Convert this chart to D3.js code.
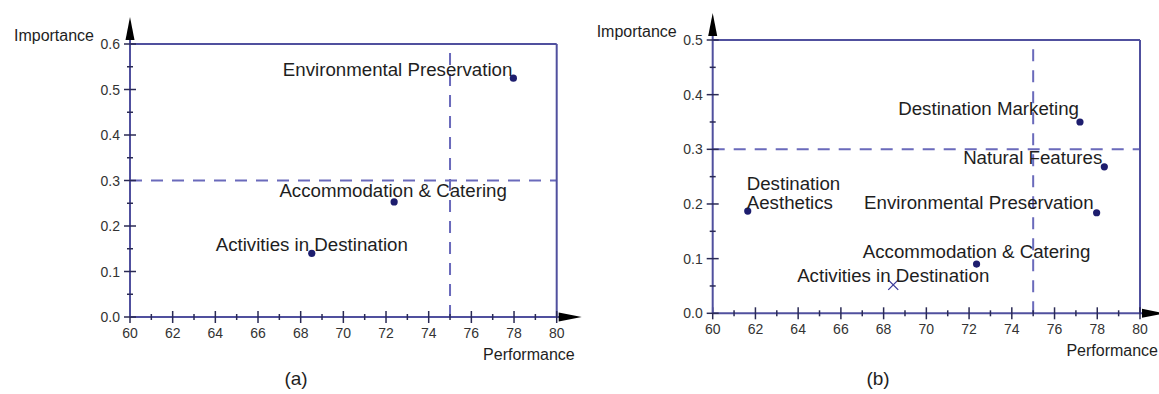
<!DOCTYPE html>
<html>
<head>
<meta charset="utf-8">
<script src="https://cdn.jsdelivr.net/npm/d3@7"></script>
<style>
  body { margin: 0; background: #fff; }
  svg { display: block; font-family: "Liberation Sans", Arial, sans-serif; }
</style>
</head>
<body>
<svg id="chart" width="1159" height="394"></svg>
<script>
// ---------- data ----------
const xTicks = [60, 62, 64, 66, 68, 70, 72, 74, 76, 78, 80];
const yTicksA = [0.0, 0.1, 0.2, 0.3, 0.4, 0.5, 0.6];
const yTicksB = [0.0, 0.1, 0.2, 0.3, 0.4, 0.5];
const perfThreshold = 75;
const impThreshold = 0.3;

const factorsA = ["Environmental Preservation", "Accommodation & Catering", "Activities in Destination"];
const perfA = [77.97, 72.38, 68.52];
const impA = [0.525, 0.253, 0.14];
const markerA = ["dot", "dot", "dot"];

const factorsB = ["Destination Marketing", "Natural Features", "Environmental Preservation",
                  "Accommodation & Catering", "Activities in Destination", "Destination\nAesthetics"];
const perfB = [77.19, 78.33, 77.97, 72.35, 68.45, 61.64];
const impB = [0.350, 0.268, 0.184, 0.090, 0.052, 0.187];
const markerB = ["dot", "dot", "dot", "dot", "x", "dot"];

// label placement (pixel offsets from the point)
const labelLayoutA = [
  { anchor: "end", dx: -1, dy: -2 },
  { anchor: "middle", dx: -1, dy: -5 },
  { anchor: "middle", dx: 0, dy: -2 }
];
const labelLayoutB = [
  { anchor: "end", dx: -1, dy: -7 },
  { anchor: "end", dx: -2, dy: -3 },
  { anchor: "end", dx: -3, dy: -4 },
  { anchor: "middle", dx: 0, dy: -6 },
  { anchor: "middle", dx: 0, dy: -3 },
  { anchor: "start", dx: -1, dy: -21 }
];

// ---------- styling ----------
const AXIS = "#50509e";
const DASH = "#6a6abb";
const POINT = "#1d1d6e";
const TEXT = "#1e1e1e";
const TICKTEXT = "#333";

const svg = d3.select("#chart");

function panel(cfg) {
  const x = d3.scaleLinear().domain([60, 80]).range([cfg.left, cfg.right]);
  const y = d3.scaleLinear().domain([0, cfg.yMax]).range([cfg.bottom, cfg.top]);
  const g = svg.append("g");

  // dashed threshold lines
  g.append("line")
    .attr("x1", x(60)).attr("x2", x(80))
    .attr("y1", y(impThreshold)).attr("y2", y(impThreshold))
    .attr("stroke", DASH).attr("stroke-width", 2).attr("stroke-dasharray", "12,9");
  g.append("line")
    .attr("x1", x(perfThreshold)).attr("x2", x(perfThreshold))
    .attr("y1", y(0)).attr("y2", y(cfg.yMax))
    .attr("stroke", DASH).attr("stroke-width", 2).attr("stroke-dasharray", "12,9");

  // frame (top and right)
  g.append("line").attr("x1", x(60)).attr("x2", x(80)).attr("y1", y(cfg.yMax)).attr("y2", y(cfg.yMax))
    .attr("stroke", AXIS).attr("stroke-width", 2);
  g.append("line").attr("x1", x(80)).attr("x2", x(80)).attr("y1", y(0)).attr("y2", y(cfg.yMax))
    .attr("stroke", AXIS).attr("stroke-width", 2);

  // x axis
  const xMinor = d3.range(61, 80, 2);
  const xa = g.append("g").attr("transform", `translate(0,${y(0)})`);
  xa.append("line").attr("x1", x(60)).attr("x2", x(80) + 4).attr("stroke", AXIS).attr("stroke-width", 2);
  xa.selectAll(".maj").data(xTicks).join("line")
    .attr("x1", d => x(d)).attr("x2", d => x(d)).attr("y1", -6).attr("y2", 6)
    .attr("stroke", "#2a2a55").attr("stroke-width", 1.5);
  xa.selectAll(".min").data(xMinor).join("line")
    .attr("x1", d => x(d)).attr("x2", d => x(d)).attr("y1", -3).attr("y2", 3)
    .attr("stroke", "#2a2a55").attr("stroke-width", 1.5);
  xa.selectAll("text").data(xTicks).join("text")
    .attr("x", d => x(d)).attr("y", 21).attr("text-anchor", "middle")
    .attr("font-size", 14).attr("fill", TICKTEXT).text(d => d3.format("d")(d));
  xa.append("path")
    .attr("d", `M${x(80) + 2},-4.5 L${x(80) + 25},0 L${x(80) + 2},4.5 Z`).attr("fill", "#000");

  // y axis
  const yMinor = d3.range(0.05, cfg.yMax, 0.1);
  const ya = g.append("g").attr("transform", `translate(${x(60)},0)`);
  ya.append("line").attr("y1", y(0)).attr("y2", y(cfg.yMax) - 4).attr("stroke", AXIS).attr("stroke-width", 2);
  ya.selectAll(".maj").data(cfg.yTicks).join("line")
    .attr("y1", d => y(d)).attr("y2", d => y(d)).attr("x1", -6).attr("x2", 6)
    .attr("stroke", "#2a2a55").attr("stroke-width", 1.5);
  ya.selectAll(".min").data(yMinor).join("line")
    .attr("y1", d => y(d)).attr("y2", d => y(d)).attr("x1", -3).attr("x2", 3)
    .attr("stroke", "#2a2a55").attr("stroke-width", 1.5);
  ya.selectAll("text").data(cfg.yTicks).join("text")
    .attr("x", -10).attr("y", d => y(d) + 5).attr("text-anchor", "end")
    .attr("font-size", 14).attr("fill", TICKTEXT).text(d => d3.format(".1f")(d));
  ya.append("path")
    .attr("d", `M-4.5,${y(cfg.yMax) - 4} L0,${y(cfg.yMax) - 27} L4.5,${y(cfg.yMax) - 4} Z`).attr("fill", "#000");

  // axis titles
  g.append("text").attr("x", x(60) - 36).attr("y", y(cfg.yMax) - 3).attr("text-anchor", "end")
    .attr("font-size", 16).attr("fill", TEXT).text("Importance");
  g.append("text").attr("x", x(80) + 18).attr("y", y(0) + 43).attr("text-anchor", "end")
    .attr("font-size", 16).attr("fill", TEXT).text("Performance");
  g.append("text").attr("x", cfg.captionX).attr("y", 385).attr("text-anchor", "middle")
    .attr("font-size", 19).attr("fill", TEXT).text(cfg.caption);

  // points
  const data = cfg.names.map((n, i) => ({ n, p: cfg.perf[i], v: cfg.imp[i], m: cfg.marker[i], L: cfg.layout[i] }));
  data.forEach(d => {
    const cx = x(d.p), cy = y(d.v);
    if (d.m === "x") {
      g.append("path").attr("d", `M${cx - 5},${cy - 5} L${cx + 5},${cy + 5} M${cx - 5},${cy + 5} L${cx + 5},${cy - 5}`)
        .attr("stroke", "#3a3a9a").attr("stroke-width", 1.3).attr("fill", "none");
    } else {
      g.append("circle").attr("cx", cx).attr("cy", cy).attr("r", 3.6).attr("fill", POINT);
    }
    const lines = d.n.split("\n");
    const t = g.append("text").attr("text-anchor", d.L.anchor).attr("font-size", 18.7).attr("fill", TEXT);
    lines.forEach((ln, k) => {
      t.append("tspan").attr("x", cx + d.L.dx).attr("y", cy + d.L.dy + k * 19).text(ln);
    });
  });
}

panel({ left: 130, right: 556.7, top: 44, bottom: 317, yMax: 0.6, yTicks: yTicksA,
        names: factorsA, perf: perfA, imp: impA, marker: markerA, layout: labelLayoutA,
        caption: "(a)", captionX: 296 });
panel({ left: 712.7, right: 1140, top: 40, bottom: 313.3, yMax: 0.5, yTicks: yTicksB,
        names: factorsB, perf: perfB, imp: impB, marker: markerB, layout: labelLayoutB,
        caption: "(b)", captionX: 878 });
</script>
</body>
</html>
